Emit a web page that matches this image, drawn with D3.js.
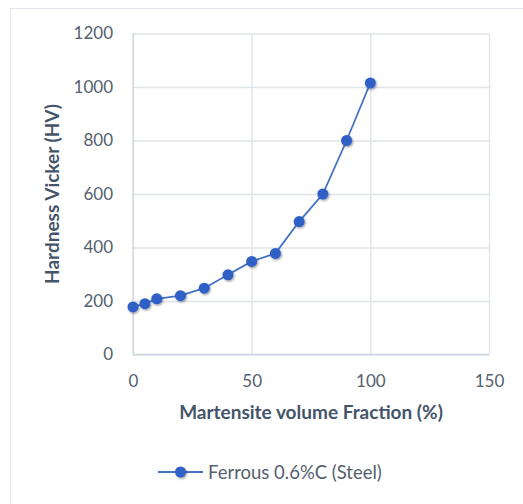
<!DOCTYPE html>
<html>
<head>
<meta charset="utf-8">
<script src="https://cdn.jsdelivr.net/npm/d3@7/dist/d3.min.js"></script>
<style>
  html, body { margin: 0; padding: 0; background: #fff; }
  svg { display: block; }
  text { font-family: Lato, "Open Sans", sans-serif; }
</style>
</head>
<body>
<svg id="chart" width="523" height="504"></svg>
<script>
// Hardness vs martensite volume fraction
const fraction = [0, 5, 10, 20, 30, 40, 50, 60, 70, 80, 90, 100];
const hardness = [178, 190, 208, 220, 248, 298, 348, 378, 497, 600, 800, 1015];
const xTicks = [0, 50, 100, 150];
const yTicks = [0, 200, 400, 600, 800, 1000, 1200];
const seriesName = "Ferrous 0.6%C (Steel)";
const xTitle = "Martensite volume Fraction (%)";
const yTitle = "Hardness Vicker (HV)";

const svg = d3.select("#chart");
const W = 523, H = 504;
const m = { left: 133, right: 489, top: 33.5, bottom: 354.5 };

const grid = "#dfe3ea";
const tickColor = "#55606e";
const titleColor = "#44546a";
const lineColor = "#4472c4";
const dotColor = "#2f60c6";

// chart frame
svg.append("rect")
  .attr("x", 10.5).attr("y", 8.5)
  .attr("width", W).attr("height", H)
  .attr("fill", "#fff").attr("stroke", "#e2e6ee").attr("stroke-width", 1);

const defs = svg.append("defs");
const f = defs.append("filter").attr("id", "shadow")
  .attr("x", "-60%").attr("y", "-60%").attr("width", "220%").attr("height", "220%");
f.append("feDropShadow").attr("dx", 1).attr("dy", 1.2).attr("stdDeviation", 1.2)
  .attr("flood-color", "#000").attr("flood-opacity", 0.4);

const x = d3.scaleLinear().domain([0, 150]).range([m.left, m.right]);
const y = d3.scaleLinear().domain([0, 1200]).range([m.bottom, m.top]);

// gridlines and tick labels
const xAxis = svg.append("g").attr("transform", `translate(0,${m.bottom})`)
  .call(d3.axisBottom(x).tickValues(xTicks).tickFormat(d3.format("d"))
    .tickSize(-(m.bottom - m.top)).tickPadding(20));
const yAxis = svg.append("g").attr("transform", `translate(${m.left},0)`)
  .call(d3.axisLeft(y).tickValues(yTicks).tickFormat(d3.format("d"))
    .tickSize(-(m.right - m.left)).tickPadding(20));

[xAxis, yAxis].forEach(g => {
  g.select(".domain").remove();
  g.selectAll(".tick line").attr("stroke", grid).attr("stroke-width", 1.3);
  g.selectAll(".tick text")
    .attr("fill", tickColor)
    .style("font-size", "17px")
    .style("font-family", "Lato, 'Open Sans', sans-serif");
});
// axis lines, slightly darker than the grid
svg.append("line")
  .attr("x1", m.left).attr("x2", m.left).attr("y1", m.top).attr("y2", m.bottom)
  .attr("stroke", "#cfd6e2").attr("stroke-width", 1.3);
svg.append("line")
  .attr("x1", m.left).attr("x2", m.right).attr("y1", m.bottom).attr("y2", m.bottom)
  .attr("stroke", "#cfd6e2").attr("stroke-width", 1.3);

// series
const data = fraction.map((v, i) => ({ x: v, y: hardness[i] }));
svg.append("path")
  .datum(data)
  .attr("fill", "none")
  .attr("stroke", lineColor)
  .attr("stroke-width", 1.8)
  .attr("d", d3.line().x(d => x(d.x)).y(d => y(d.y)));

svg.append("g").selectAll("circle")
  .data(data).join("circle")
  .attr("cx", d => x(d.x)).attr("cy", d => y(d.y))
  .attr("r", 5.5)
  .attr("fill", dotColor)
  .attr("filter", "url(#shadow)");

// axis titles
svg.append("text")
  .attr("x", (m.left + m.right) / 2).attr("y", 419)
  .attr("text-anchor", "middle")
  .attr("fill", titleColor)
  .style("font-size", "19px").style("font-weight", "bold")
  .text(xTitle);

svg.append("text")
  .attr("transform", `translate(59,${(m.top + m.bottom) / 2}) rotate(-90)`)
  .attr("text-anchor", "middle")
  .attr("fill", titleColor)
  .style("font-size", "19px").style("font-weight", "bold")
  .text(yTitle);

// legend
const lg = svg.append("g").attr("transform", "translate(158,472)");
lg.append("line").attr("x1", 0).attr("x2", 45).attr("y1", 0).attr("y2", 0)
  .attr("stroke", lineColor).attr("stroke-width", 1.8);
lg.append("circle").attr("cx", 22.5).attr("cy", 0).attr("r", 5.5)
  .attr("fill", dotColor).attr("filter", "url(#shadow)");
lg.append("text").attr("x", 50).attr("y", 6.5)
  .attr("fill", tickColor)
  .style("font-size", "18.5px")
  .text(seriesName);
</script>
</body>
</html>
